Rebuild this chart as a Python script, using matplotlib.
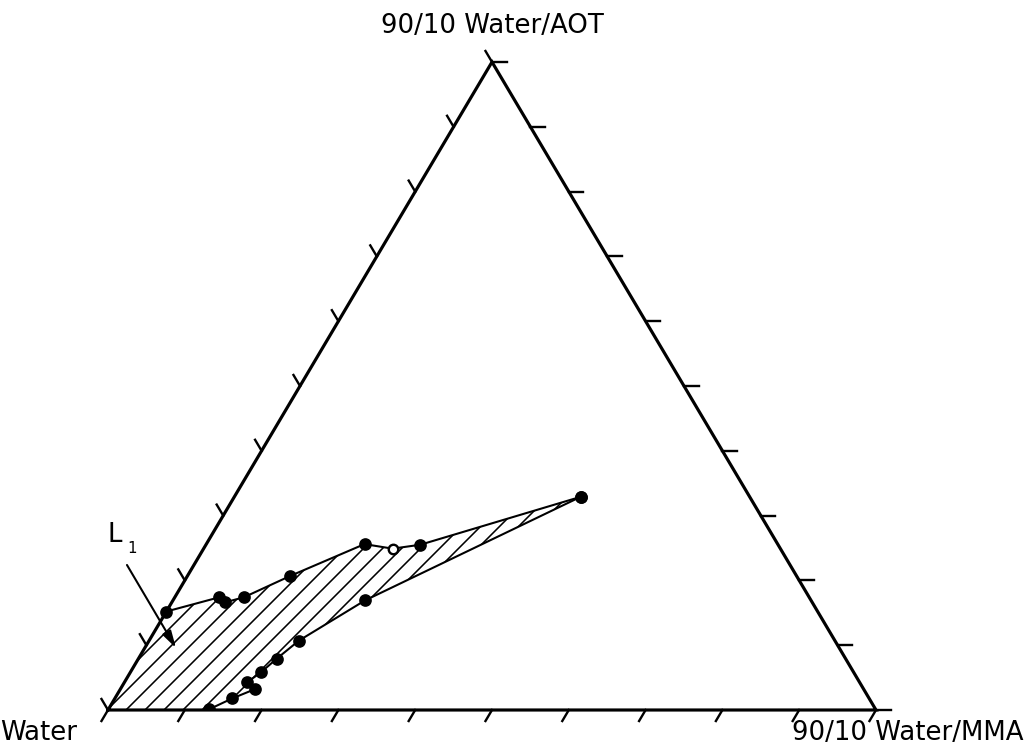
import numpy as np
import matplotlib.pyplot as plt

# phase boundary of the L1 region, in percent of the two mixtures
# (rest is water)
upper_mma = [0.0, 5.8, 6.9, 9.0, 13.4, 20.6, 24.6, 27.9, 45.1]
upper_aot = [15.2, 17.4, 16.6, 17.4, 20.7, 25.6, 24.9, 25.5, 32.9]
open_idx = 6  # the one open circle on the upper line

lower_mma = [45.1, 25.0, 19.5, 18.0, 17.0, 16.0, 17.5, 15.3, 13.1]
lower_aot = [32.9, 16.9, 10.7, 7.9, 5.8, 4.3, 3.2, 1.8, 0.1]

ticks = np.arange(0, 101, 10)


def tern(b, c):
    # b = 90/10 Water/MMA, c = 90/10 Water/AOT (percent)
    b = np.asarray(b) / 100.0
    c = np.asarray(c) / 100.0
    return b + c / 2, c


W, H = 1026, 756
DPI = 114
fig = plt.figure(figsize=(W / DPI, H / DPI), dpi=DPI)
ax = fig.add_axes([108 / W, 46 / H, 768 / W, 648 / H])
ax.set_xlim(0, 1)
ax.set_ylim(0, 1)
ax.axis('off')

# triangle
tx, ty = tern([0, 100, 0, 0], [0, 0, 100, 0])
ax.plot(tx, ty, color='black', lw=2, clip_on=False, solid_joinstyle='miter')

# ticks
t = 0.017
for v in ticks:
    # bottom edge, down-left
    x0, y0 = tern(v, 0)
    ax.plot([x0, x0 - 0.5 * t], [y0, y0 - t], color='black', lw=1.5, clip_on=False)
    # left edge, up-left
    x0, y0 = tern(0, v)
    ax.plot([x0, x0 - 0.5 * t], [y0, y0 + t], color='black', lw=1.5, clip_on=False)
    # right edge, to the right
    x0, y0 = tern(100 - v, v)
    ax.plot([x0, x0 + 0.019], [y0, y0], color='black', lw=1.5, clip_on=False)

# hatched L1 region
ux, uy = tern(upper_mma, upper_aot)
lx, ly = tern(lower_mma, lower_aot)
px = np.concatenate([[0.0], ux, lx[1:], [lx[-1]]])
py = np.concatenate([[0.0], uy, ly[1:], [0.0]])
plt.rcParams['hatch.linewidth'] = 1.0
ax.fill(px, py, facecolor='none', edgecolor='black', hatch='//', lw=0)

# boundary lines and points
ax.plot(ux, uy, color='black', lw=1.3)
ax.plot(lx, ly, color='black', lw=1.3)
mask = np.arange(len(ux)) != open_idx
ax.plot(ux[mask], uy[mask], 'o', color='black', ms=7)
ax.plot(lx, ly, 'o', color='black', ms=7)
ax.plot(ux[open_idx], uy[open_idx], 'o', mfc='white', mec='black', mew=1.5, ms=6)

# L1 label and arrow
ax.annotate('', xy=(0.0885, 0.0957), xytext=(0.0247, 0.2238),
            arrowprops=dict(arrowstyle='-|>,head_length=0.9,head_width=0.25',
                            color='black', lw=1.3, shrinkA=0, shrinkB=0))
fig.text(108 / W, (H - 542) / H, 'L', fontsize=16.4, ha='left', va='baseline')
fig.text(127 / W, (H - 553) / H, '1', fontsize=9.5, ha='left', va='baseline')

# vertex labels
fig.text(492 / W, (H - 26) / H, '90/10 Water/AOT', fontsize=16.4, ha='center', va='center')
fig.text(0.0, (H - 733) / H, 'Water', fontsize=16.4, ha='left', va='center')
fig.text(1024 / W, (H - 733) / H, '90/10 Water/MMA', fontsize=16.4, ha='right', va='center')

fig.savefig('out.png', dpi=DPI)
